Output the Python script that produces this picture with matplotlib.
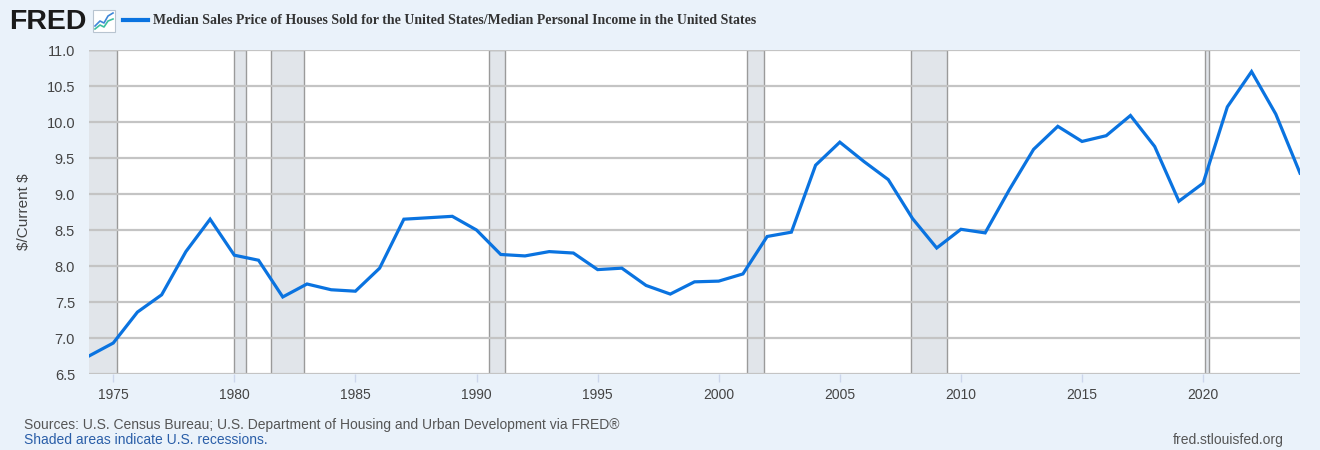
import matplotlib
matplotlib.use("Agg")
import matplotlib.pyplot as plt
from matplotlib.lines import Line2D
from matplotlib.patches import Rectangle

years = list(range(1974, 2025))
ratio = [6.75, 6.93, 7.36, 7.60, 8.20, 8.65, 8.15, 8.08, 7.57, 7.75,
         7.67, 7.65, 7.97, 8.65, 8.67, 8.69, 8.50, 8.16, 8.14, 8.20,
         8.18, 7.95, 7.97, 7.73, 7.61, 7.78, 7.79, 7.89, 8.41, 8.47,
         9.40, 9.72, 9.45, 9.20, 8.66, 8.25, 8.51, 8.46, 9.06, 9.62,
         9.94, 9.73, 9.81, 10.09, 9.66, 8.90, 9.15, 10.21, 10.70, 10.11,
         9.29]
recessions = [(1973.83, 1975.17), (1980.0, 1980.5), (1981.5, 1982.86),
              (1990.5, 1991.17), (2001.17, 2001.86), (2007.92, 2009.43),
              (2020.09, 2020.26)]
xticks = [1975, 1980, 1985, 1990, 1995, 2000, 2005, 2010, 2015, 2020]
yticks = [6.5, 7.0, 7.5, 8.0, 8.5, 9.0, 9.5, 10.0, 10.5, 11.0]

title = "Median Sales Price of Houses Sold for the United States/Median Personal Income in the United States"

BG = "#eaf2fa"
LINE = "#0a73e0"

fig = plt.figure(figsize=(13.2, 4.5), dpi=100, facecolor=BG)
ax = fig.add_axes([89/1320, 1-374/450, (1300-89)/1320, (374-50)/450])
ax.set_facecolor("white")

for a, b in recessions:
    ax.axvspan(a, b, facecolor="#e1e5ea", edgecolor="#9a9a9a", lw=1.0, zorder=1)

ax.plot(years, ratio, color=LINE, lw=2.3, zorder=3, solid_joinstyle="miter")

ax.set_xlim(1974, 2024)
ax.set_ylim(6.5, 11.0)
ax.set_yticks(yticks)
ax.set_yticklabels([f"{v:.1f}" for v in yticks])
ax.set_xticks(xticks)
ax.set_xticklabels([str(v) for v in xticks])
ax.yaxis.grid(True, color="#c4c4c4", lw=1.6, zorder=2)
ax.set_axisbelow(False)
for s in ax.spines.values():
    s.set_visible(False)
ax.tick_params(axis="y", length=0, pad=10, labelsize=10.5, labelcolor="#444444")
ax.tick_params(axis="x", length=6, width=1, color="#ccd6eb", pad=4,
               labelsize=10, labelcolor="#444444")
for t in ax.get_xticklabels() + ax.get_yticklabels():
    t.set_fontfamily(["Liberation Sans", "DejaVu Sans"])

ax.set_ylabel("\\$/Current \\$", fontsize=11, color="#444444",
              family=["Liberation Sans", "DejaVu Sans"])
ax.yaxis.set_label_coords(-(89-31)/1211, 0.5)

# Header: FRED logo, icon, legend
fig.text(9/1320, 1-22/450, "FRED", fontsize=20.5, fontweight="bold",
         color="#1a1a1a", family=["Liberation Sans", "DejaVu Sans"],
         va="center", ha="left")
fig.patches.append(Rectangle((93/1320, 1-32/450), 22/1320, 22/450,
                             transform=fig.transFigure, facecolor="white",
                             edgecolor="#b8c4d0", lw=0.8))
fig.lines.append(Line2D([95/1320, 100/1320, 104/1320, 108/1320, 113/1320],
                        [1-26/450, 1-21/450, 1-23/450, 1-16/450, 1-13/450],
                        transform=fig.transFigure, color="#3f87d8", lw=1.2))
fig.lines.append(Line2D([95/1320, 100/1320, 104/1320, 108/1320, 113/1320],
                        [1-29/450, 1-25/450, 1-27/450, 1-21/450, 1-19/450],
                        transform=fig.transFigure, color="#3fbf9f", lw=1.2))
fig.lines.append(Line2D([123/1320, 148/1320], [1-20/450, 1-20/450],
                        transform=fig.transFigure, color=LINE, lw=3))
fig.text(153/1320, 1-20/450, title, fontsize=10, fontweight="bold",
         color="#333333", family=["Liberation Serif", "DejaVu Serif"],
         va="center", ha="left")

# Footer
fig.text(24/1320, 1-425/450, "Sources: U.S. Census Bureau; U.S. Department of Housing and Urban Development via FRED\u00ae",
         fontsize=10, color="#555555", family=["Liberation Sans", "DejaVu Sans"],
         va="center", ha="left")
fig.text(24/1320, 1-440/450, "Shaded areas indicate U.S. recessions.",
         fontsize=10, color="#2a5ea8", family=["Liberation Sans", "DejaVu Sans"],
         va="center", ha="left")
fig.text(1284/1320, 1-440/450, "fred.stlouisfed.org",
         fontsize=10, color="#555555", family=["Liberation Sans", "DejaVu Sans"],
         va="center", ha="right")

fig.savefig("out.png", dpi=100, facecolor=BG)
